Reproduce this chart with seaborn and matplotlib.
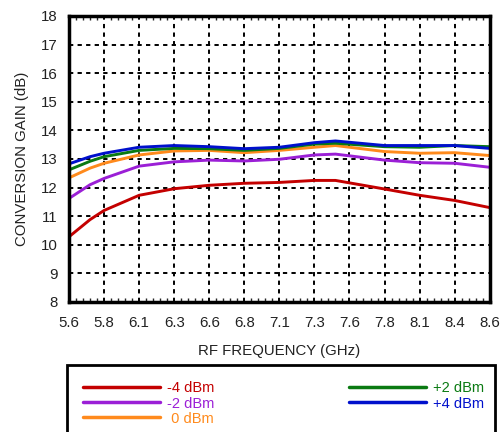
import numpy as np
import pandas as pd
import matplotlib
matplotlib.use("Agg")
import matplotlib.pyplot as plt
from matplotlib.patches import Rectangle
from matplotlib.ticker import MultipleLocator
import seaborn as sns

# data
freq = [5.6, 5.75, 5.85, 6.1, 6.35, 6.6, 6.85, 7.1, 7.35, 7.5, 7.85, 8.1, 8.35, 8.6]
gain_m4 = [10.28, 10.88, 11.20, 11.73, 11.96, 12.08, 12.15, 12.18, 12.25, 12.25, 11.95, 11.73, 11.55, 11.30]
gain_m2 = [11.62, 12.10, 12.32, 12.75, 12.90, 12.96, 12.93, 12.99, 13.14, 13.17, 12.96, 12.87, 12.85, 12.71]
gain_0 = [12.34, 12.68, 12.85, 13.14, 13.28, 13.30, 13.22, 13.30, 13.41, 13.47, 13.26, 13.20, 13.22, 13.12]
gain_p2 = [12.62, 12.92, 13.08, 13.30, 13.37, 13.36, 13.30, 13.37, 13.52, 13.55, 13.43, 13.41, 13.47, 13.43]
gain_p4 = [12.83, 13.08, 13.20, 13.41, 13.47, 13.43, 13.36, 13.41, 13.57, 13.63, 13.47, 13.47, 13.47, 13.37]

series = ["-4 dBm", "-2 dBm", " 0 dBm", "+2 dBm", "+4 dBm"]
colors = ["#c40000", "#9b1fd6", "#ff8a1c", "#0a7a12", "#0010cc"]

xticks = [5.6, 5.85, 6.1, 6.35, 6.6, 6.85, 7.1, 7.35, 7.6, 7.85, 8.1, 8.35, 8.6]
xlabels = ["5.6", "5.8", "6.1", "6.3", "6.6", "6.8", "7.1", "7.3", "7.6", "7.8", "8.1", "8.4", "8.6"]
yticks = list(range(8, 19))

rows = []
for name, vals in zip(series, [gain_m4, gain_m2, gain_0, gain_p2, gain_p4]):
    for f, g in zip(freq, vals):
        rows.append({"freq": f, "gain": g, "lo": name})
df = pd.DataFrame(rows)

sns.set_style("white")
plt.rcParams["font.family"] = ["Liberation Sans", "DejaVu Sans"]

fig = plt.figure(figsize=(5.02, 4.32), dpi=100)
ax = fig.add_axes([0.1375, 0.301, 0.838, 0.662])

sns.lineplot(data=df, x="freq", y="gain", hue="lo", palette=colors,
             hue_order=series, linewidth=2.1, ax=ax, legend=False, sort=False)

ax.set_xlim(5.6, 8.6)
ax.set_ylim(8, 18)
ax.set_xticks(xticks)
ax.set_xticklabels(xlabels)
ax.set_yticks(yticks)
ax.xaxis.set_minor_locator(MultipleLocator(0.05))
ax.tick_params(axis="both", which="major", length=0, labelsize=10.8, labelcolor="#222222")
ax.tick_params(axis="x", which="major", pad=10)
ax.tick_params(axis="y", which="major", pad=8)
ax.tick_params(axis="x", which="minor", direction="in", length=3, width=1, top=True, bottom=True)
ax.grid(True, which="major", color="black", linestyle=(0, (2.2, 2.2)), linewidth=1.4)
for s in ax.spines.values():
    s.set_color("black")
    s.set_linewidth(2.5)

ax.set_xlabel("RF FREQUENCY (GHz)", fontsize=10.8, color="#222222", labelpad=10)
ax.set_ylabel("CONVERSION GAIN (dB)", fontsize=10.8, color="#222222", labelpad=9)

# legend box below the plot
fig.patches.append(Rectangle((67 / 502, -0.05), 428 / 502, 1 - 365 / 432 + 0.05,
                             transform=fig.transFigure, fill=False,
                             edgecolor="black", linewidth=2.0))
handles = [plt.Line2D([], [], color=c, linewidth=2.5) for c in colors]
fig.legend(handles, series, loc="upper left", bbox_to_anchor=(83 / 502, 1 - 381.5 / 432),
           ncol=2, frameon=False, fontsize=10.5, labelcolor=colors,
           handlelength=5.3, handletextpad=0.48, columnspacing=9.2,
           labelspacing=0.07, borderpad=0, borderaxespad=0)

fig.savefig("out.png", dpi=100)
